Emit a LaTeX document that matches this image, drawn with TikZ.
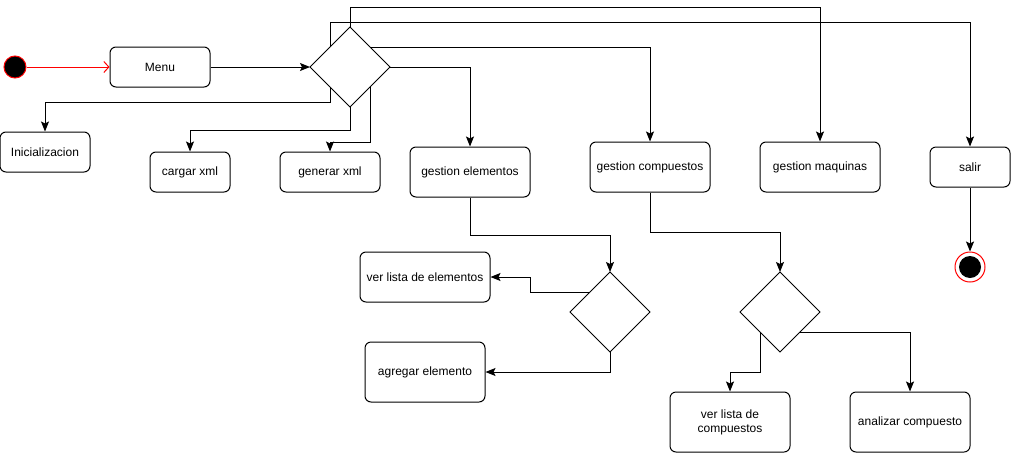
\documentclass[tikz,border=0pt]{standalone}
\usepackage{fontspec}
\setmainfont{Liberation Sans}
\usetikzlibrary{arrows.meta, shapes.geometric, calc}

\begin{document}
\begin{tikzpicture}[x=1pt, y=-1pt, line width=1pt,
    font=\fontsize{12}{14}\selectfont,
    actbox/.style={draw, rounded corners=6pt, align=center, inner sep=2pt},
    choice/.style={draw, diamond, minimum width=80pt, minimum height=80pt, inner sep=0pt, outer sep=0pt},
    flow/.style={-{Stealth[length=10pt, width=8pt, inset=2pt]}}]
    \useasboundingbox (0,0) rectangle (1016,453);

    % start, menu and first choice
    \node[circle, draw=red, fill=black, minimum size=22pt, inner sep=0pt] (start) at (15,67) {};
    \node[actbox, minimum width=100pt, minimum height=40pt] (menu) at (160,67) {Menu};
    \node[choice] (d1) at (350,67) {};
    \draw[red, -{Straight Barb[length=5pt, width=11pt]}] (start) -- (menu);
    \draw[flow] (menu) -- (d1);

    % options of the menu
    \node[actbox, minimum width=90pt, minimum height=40pt] (ini) at (45,152) {Inicializacion};
    \node[actbox, minimum width=80pt, minimum height=40pt] (cargar) at (190,172) {cargar xml};
    \node[actbox, minimum width=100pt, minimum height=40pt] (generar) at (330,172) {generar xml};
    \node[actbox, minimum width=120pt, minimum height=50pt] (gestel) at (470,172) {gestion elementos};
    \node[actbox, minimum width=120pt, minimum height=50pt] (gestcomp) at (650,167) {gestion compuestos};
    \node[actbox, minimum width=120pt, minimum height=50pt] (gestmaq) at (820,167) {gestion maquinas};
    \node[actbox, minimum width=80pt, minimum height=40pt] (salir) at (970,167) {salir};
    \coordinate (d1sw) at ($(d1.west)!0.5!(d1.south)$);
    \coordinate (d1se) at ($(d1.east)!0.5!(d1.south)$);
    \coordinate (d1nw) at ($(d1.west)!0.5!(d1.north)$);
    \coordinate (d1ne) at ($(d1.east)!0.5!(d1.north)$);
    \draw[flow] (d1sw) -- ++(0,15) -| (ini.north);
    \draw[flow] (d1.south) -- ++(0,23) -| (cargar.north);
    \draw[flow] (d1se) -- ++(0,55) -| (generar.north);
    \draw[flow] (d1.east) -| (gestel.north);
    \draw[flow] (d1ne) -| (gestcomp.north);
    \draw[flow] (d1.north) -- ++(0,-20) -| (gestmaq.north);
    \draw[flow] (d1nw) -- ++(0,-25) -| (salir.north);

    % end
    \node[circle, draw=red, fill=white, minimum size=30pt, inner sep=0pt] (fin) at (970,267) {};
    \fill (fin.center) circle (11pt);
    \draw[flow] (salir) -- (fin);

    % gestion elementos
    \node[choice] (d2) at (610,312) {};
    \node[actbox, minimum width=130pt, minimum height=50pt] (verel) at (425,277) {ver lista de elementos};
    \node[actbox, minimum width=120pt, minimum height=60pt] (agregar) at (425,372) {agregar elemento};
    \coordinate (d2nw) at ($(d2.west)!0.5!(d2.north)$);
    \draw[flow] (gestel.south) -- ++(0,38) -| (d2.north);
    \draw[flow] (d2nw) -- ++(-60,0) |- (verel.east);
    \draw[flow] (d2.south) |- (agregar.east);

    % gestion compuestos
    \node[choice] (d3) at (780,312) {};
    \node[actbox, minimum width=120pt, minimum height=60pt] (vercomp) at (730,422) {ver lista de\\compuestos};
    \node[actbox, minimum width=120pt, minimum height=60pt] (analizar) at (910,422) {analizar compuesto};
    \coordinate (d3sw) at ($(d3.west)!0.5!(d3.south)$);
    \coordinate (d3se) at ($(d3.east)!0.5!(d3.south)$);
    \draw[flow] (gestcomp.south) -- ++(0,40) -| (d3.north);
    \draw[flow] (d3sw) -- ++(0,40) -| (vercomp.north);
    \draw[flow] (d3se) -| (analizar.north);
\end{tikzpicture}
\end{document}
